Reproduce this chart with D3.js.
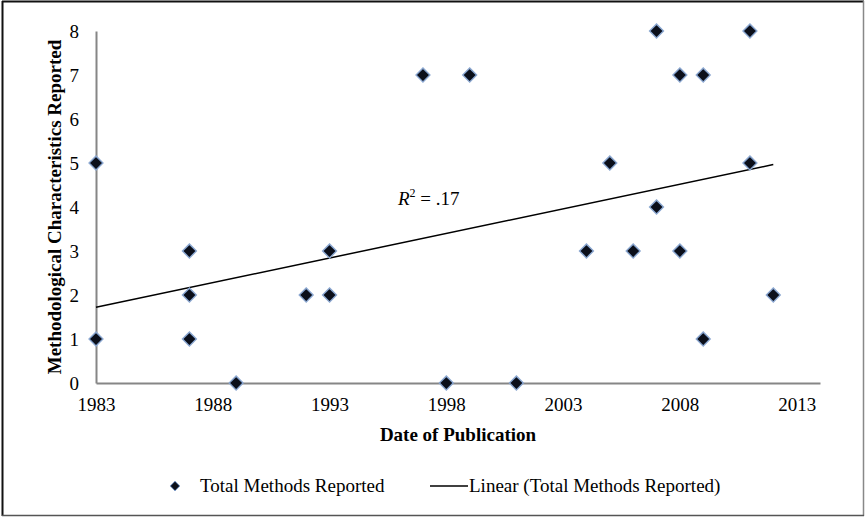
<!DOCTYPE html>
<html lang="en">
<head>
    <meta charset="UTF-8">
    <title>Methodological Characteristics by Date of Publication</title>
    <style>
        body { margin: 0; background: #fff; }
        svg { display: block; font-family: "Liberation Serif", "Times New Roman", serif; }
    </style>
</head>
<body>
    <svg id="chart" width="865" height="517"></svg>

    <script src="https://d3js.org/d3.v7.min.js"></script>
    <script>
        // data: year of publication and count reported
        var years  = [1983, 1983, 1987, 1987, 1987, 1989, 1992, 1993, 1993, 1997, 1998, 1999, 2001,
                      2004, 2005, 2006, 2007, 2007, 2008, 2008, 2009, 2009, 2011, 2011, 2012];
        var counts = [5, 1, 3, 2, 1, 0, 2, 3, 2, 7, 0, 7, 0,
                      3, 5, 3, 8, 4, 7, 3, 7, 1, 8, 5, 2];
        var xTicks = [1983, 1988, 1993, 1998, 2003, 2008, 2013];
        var yTicks = [0, 1, 2, 3, 4, 5, 6, 7, 8];

        var svg = d3.select("#chart");
        var fs = 19;

        // outer frame
        svg.append("line").attr("x1", 2).attr("y1", 1.5).attr("x2", 864).attr("y2", 1.5)
            .attr("stroke", "#111").attr("stroke-width", 2);
        svg.append("line").attr("x1", 2.5).attr("y1", 1).attr("x2", 2.5).attr("y2", 516)
            .attr("stroke", "#111").attr("stroke-width", 2);
        svg.append("line").attr("x1", 863.5).attr("y1", 1).attr("x2", 863.5).attr("y2", 516)
            .attr("stroke", "#888").attr("stroke-width", 1.5);
        svg.append("line").attr("x1", 2).attr("y1", 515.5).attr("x2", 864).attr("y2", 515.5)
            .attr("stroke", "#555").attr("stroke-width", 1.5);

        var x = d3.scaleLinear().domain([1983, 2014]).range([96, 820]);
        var y = d3.scaleLinear().domain([0, 8]).range([383, 31]);

        // axes
        var xAxis = svg.append("g").attr("transform", "translate(0," + y(0) + ")")
            .call(d3.axisBottom(x).tickValues(xTicks).tickFormat(d3.format("d")).tickSize(0).tickPadding(15));
        xAxis.select(".domain").attr("stroke", "#868686").attr("stroke-width", 2);
        xAxis.selectAll("text").attr("font-size", fs).attr("fill", "#000")
            .attr("font-family", "Liberation Serif, Times New Roman, serif");

        var yAxis = svg.append("g").attr("transform", "translate(" + x(1983) + ",0)")
            .call(d3.axisLeft(y).tickValues(yTicks).tickSize(0).tickPadding(17));
        yAxis.select(".domain").attr("stroke", "#868686").attr("stroke-width", 2);
        yAxis.selectAll("text").attr("font-size", fs).attr("fill", "#000")
            .attr("font-family", "Liberation Serif, Times New Roman, serif");

        // axis titles
        svg.append("text")
            .attr("x", (x.range()[0] + x.range()[1]) / 2).attr("y", 441)
            .attr("text-anchor", "middle")
            .attr("font-size", fs).attr("font-weight", "bold")
            .text("Date of Publication");

        svg.append("text")
            .attr("transform", "translate(61," + y(4) + ") rotate(-90)")
            .attr("text-anchor", "middle")
            .attr("font-size", fs).attr("font-weight", "bold")
            .text("Methodological Characteristics Reported");

        // least squares trendline
        var n = years.length;
        var mx = d3.mean(years), my = d3.mean(counts);
        var sxy = 0, sxx = 0;
        for (var i = 0; i < n; i++) {
            sxy += (years[i] - mx) * (counts[i] - my);
            sxx += (years[i] - mx) * (years[i] - mx);
        }
        var slope = sxy / sxx, icpt = my - slope * mx;
        var x0 = d3.min(years), x1 = d3.max(years);

        svg.append("line")
            .attr("x1", x(x0)).attr("y1", y(icpt + slope * x0))
            .attr("x2", x(x1)).attr("y2", y(icpt + slope * x1))
            .attr("stroke", "#000").attr("stroke-width", 1.5);

        var r2 = svg.append("text")
            .attr("x", 398).attr("y", 205)
            .attr("font-size", fs);
        r2.append("tspan").attr("font-style", "italic").text("R");
        r2.append("tspan").attr("font-size", 12).attr("dy", -8).text("2");
        r2.append("tspan").attr("dy", 8).text(" = .17");

        // soft blue glow for markers
        var defs = svg.append("defs");
        var f = defs.append("filter").attr("id", "glow").attr("x", "-50%").attr("y", "-50%")
            .attr("width", "200%").attr("height", "200%");
        f.append("feGaussianBlur").attr("stdDeviation", 0.7);

        var pts = svg.append("g");
        years.forEach(function(yr, i) {
            var g = pts.append("g")
                .attr("transform", "translate(" + x(yr) + "," + y(counts[i]) + ")");
            g.append("path").attr("d", d3.symbol().type(d3.symbolDiamond2).size(120))
                .attr("fill", "#4f6f9f").attr("stroke", "#8aa6cf").attr("stroke-width", 1.5)
                .attr("filter", "url(#glow)");
            g.append("path").attr("d", d3.symbol().type(d3.symbolDiamond2).size(88))
                .attr("fill", "#0b0f1a");
        });

        // legend
        var lg = svg.append("g");
        var lm = lg.append("g").attr("transform", "translate(175,486)");
        lm.append("path").attr("d", d3.symbol().type(d3.symbolDiamond2).size(64))
            .attr("fill", "#4f6f9f").attr("stroke", "#8aa6cf").attr("filter", "url(#glow)");
        lm.append("path").attr("d", d3.symbol().type(d3.symbolDiamond2).size(44))
            .attr("fill", "#0b0f1a");
        lg.append("text").attr("x", 200).attr("y", 492).attr("font-size", fs)
            .text("Total Methods Reported");
        lg.append("line").attr("x1", 430).attr("x2", 468).attr("y1", 486).attr("y2", 486)
            .attr("stroke", "#000").attr("stroke-width", 1.5);
        lg.append("text").attr("x", 469).attr("y", 492).attr("font-size", fs)
            .text("Linear (Total Methods Reported)");
    </script>
</body>
</html>
